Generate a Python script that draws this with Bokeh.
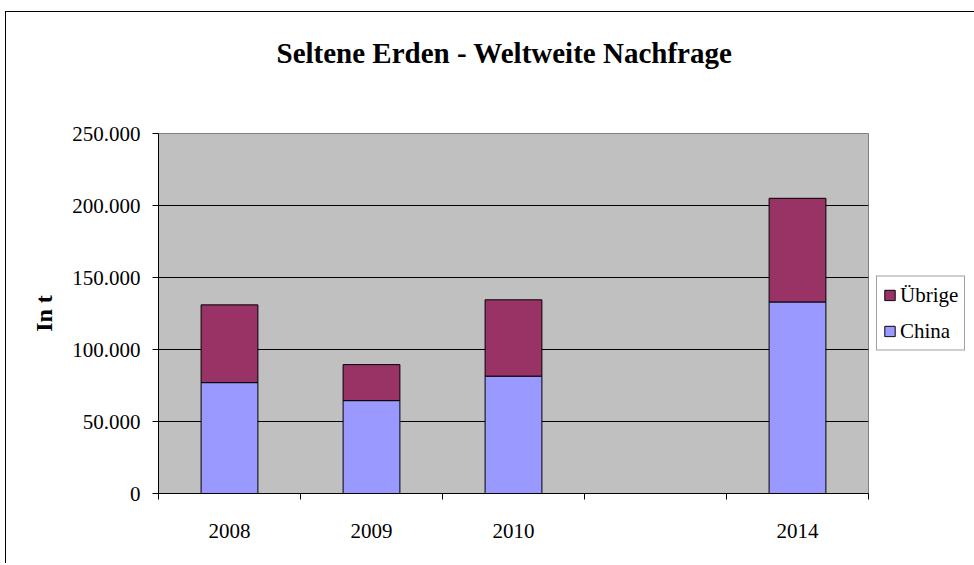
from bokeh.plotting import figure
from bokeh.models import (ColumnDataSource, FixedTicker, LinearAxis, Legend, LegendItem,
                          Range1d, Title, Grid)
from bokeh.embed import file_html
from bokeh.resources import INLINE

# ---- data ----
years = ["2008", "2009", "2010", "", "2014"]
china = [77000, 64500, 81500, None, 133000]
uebrige = [54000, 25000, 53000, None, 72000]
y_ticks = [0, 50000, 100000, 150000, 200000, 250000]
y_tick_labels = ["0", "50.000", "100.000", "150.000", "200.000", "250.000"]

series_names = ["China", "Übrige"]
colors = ["#9999FF", "#993366"]

FONT = "Liberation Serif"

idx = [i for i, c in enumerate(china) if c is not None]
src = ColumnDataSource(dict(
    x=[i + 0.5 for i in idx],
    China=[china[i] for i in idx],
    Übrige=[uebrige[i] for i in idx],
))

p = figure(frame_width=710, frame_height=360, output_backend="svg", toolbar_location=None,
           x_range=Range1d(0, len(years)), y_range=Range1d(y_ticks[0], y_ticks[-1]),
           min_border_left=152, min_border_right=104, min_border_top=121,
           min_border_bottom=70, x_axis_location=None, y_axis_location=None)
p.styles = {"border-left": "1px solid black", "border-top": "1px solid black",
            "margin-left": "5px", "margin-top": "11px"}

p.background_fill_color = "#C0C0C0"
p.border_fill_color = "white"
p.outline_line_color = "#808080"
p.outline_line_width = 1
p.xgrid.grid_line_color = None
p.ygrid.grid_line_color = None

renderers = p.vbar_stack(series_names, x="x", width=0.4, source=src, color=colors,
                         line_color="black", line_width=1)

# y axis
yaxis = LinearAxis(ticker=FixedTicker(ticks=y_ticks))
yaxis.major_label_overrides = {t: l for t, l in zip(y_ticks, y_tick_labels)}
yaxis.major_label_text_font = FONT
yaxis.major_label_text_font_size = "21px"
yaxis.major_label_text_color = "black"
yaxis.major_tick_out = 6
yaxis.major_tick_in = 0
yaxis.minor_tick_line_color = None
yaxis.major_label_standoff = 12
yaxis.axis_line_color = "black"
yaxis.axis_label = "In t"
yaxis.axis_label_text_font = FONT
yaxis.axis_label_text_font_style = "bold"
yaxis.axis_label_text_font_size = "24px"
yaxis.axis_label_text_color = "black"
yaxis.axis_label_standoff = 12
p.add_layout(yaxis, "left")

p.add_layout(Grid(dimension=1, ticker=yaxis.ticker, grid_line_color="black", grid_line_width=1))

# x axis: tick marks at category boundaries
bounds = list(range(len(years) + 1))
xaxis1 = LinearAxis(ticker=FixedTicker(ticks=bounds))
xaxis1.major_label_overrides = {b: "" for b in bounds}
xaxis1.major_label_text_font_size = "1px"
xaxis1.major_label_standoff = 0
xaxis1.major_tick_out = 6
xaxis1.major_tick_in = 0
xaxis1.minor_tick_line_color = None
xaxis1.axis_line_color = "black"
p.add_layout(xaxis1, "below")

# x axis: category labels at centers
centers = [i + 0.5 for i in range(len(years))]
xaxis2 = LinearAxis(ticker=FixedTicker(ticks=centers))
xaxis2.major_label_overrides = {c: y for c, y in zip(centers, years)}
xaxis2.major_label_text_font = FONT
xaxis2.major_label_text_font_size = "21px"
xaxis2.major_label_text_color = "black"
xaxis2.major_tick_line_color = None
xaxis2.minor_tick_line_color = None
xaxis2.axis_line_color = None
xaxis2.major_label_standoff = 18
p.add_layout(xaxis2, "below")

# title (spacer between frame and title, then the title itself)
spacer = Title(text=" ", text_font_size="1px", standoff=62)
p.add_layout(spacer, "above")
t = Title(text="Seltene Erden - Weltweite Nachfrage", align="left",
          text_font=FONT, text_font_style="bold", text_font_size="29px",
          text_color="black", standoff=0, offset=118)
p.add_layout(t, "above")

# legend
items = [LegendItem(label=series_names[i], renderers=[renderers[i]]) for i in (1, 0)]
legend = Legend(items=items, location="center_left", orientation="vertical",
                label_text_font=FONT, label_text_font_size="21px",
                label_text_color="black",
                glyph_width=13, glyph_height=13, spacing=11, padding=6,
                label_standoff=4, border_line_color="#404040", border_line_width=1,
                background_fill_color="white", background_fill_alpha=1,
                margin=8)
p.add_layout(legend, "right")

open("out.html", "w").write(file_html(p, INLINE))
